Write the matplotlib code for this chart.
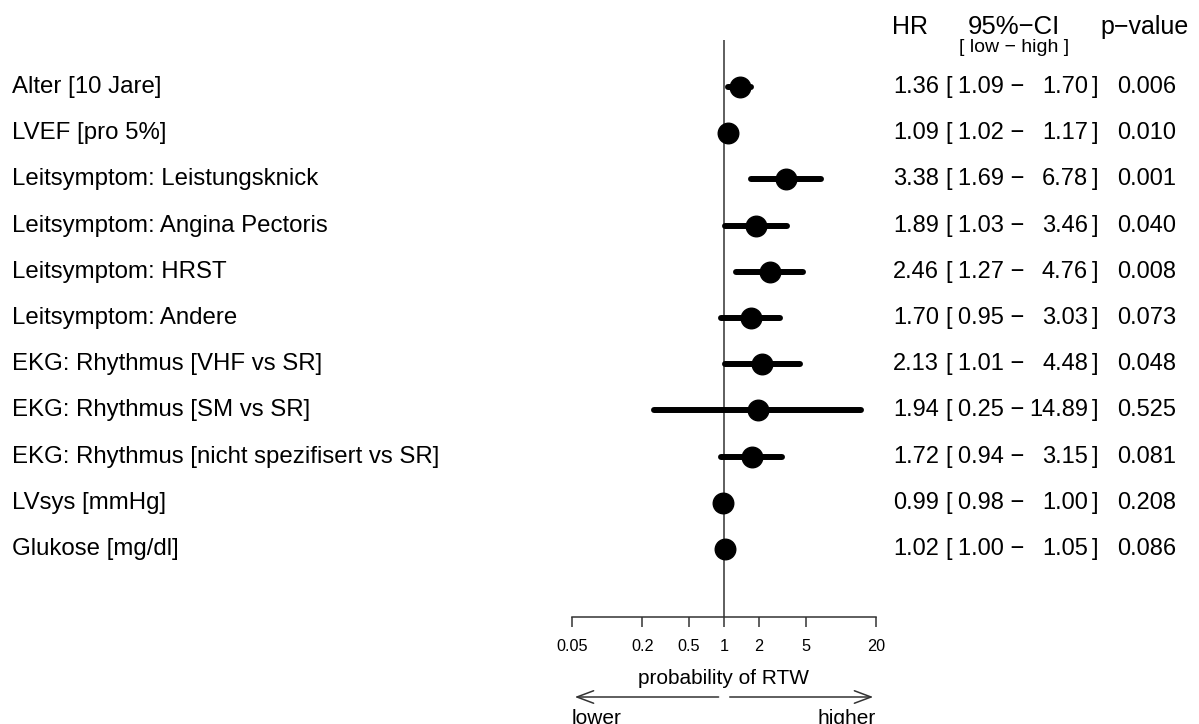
import matplotlib
matplotlib.use("Agg")
import matplotlib.pyplot as plt

plt.rcParams['font.family'] = ['Liberation Sans', 'DejaVu Sans']

# Daten
labels = ["Alter [10 Jare]", "LVEF [pro 5%]", "Leitsymptom: Leistungsknick",
          "Leitsymptom: Angina Pectoris", "Leitsymptom: HRST", "Leitsymptom: Andere",
          "EKG: Rhythmus [VHF vs SR]", "EKG: Rhythmus [SM vs SR]",
          "EKG: Rhythmus [nicht spezifisert vs SR]", "LVsys [mmHg]", "Glukose [mg/dl]"]
hr = [1.36, 1.09, 3.38, 1.89, 2.46, 1.70, 2.13, 1.94, 1.72, 0.99, 1.02]
ci_low = [1.09, 1.02, 1.69, 1.03, 1.27, 0.95, 1.01, 0.25, 0.94, 0.98, 1.00]
ci_high = [1.70, 1.17, 6.78, 3.46, 4.76, 3.03, 4.48, 14.89, 3.15, 1.00, 1.05]
pval = ["0.006", "0.010", "0.001", "0.040", "0.008", "0.073", "0.048", "0.525", "0.081", "0.208", "0.086"]
ticks = [0.05, 0.2, 0.5, 1, 2, 5, 20]
tick_labels = ["0.05", "0.2", "0.5", "1", "2", "5", "20"]

W, H = 1199, 724
fig = plt.figure(figsize=(W / 100, H / 100), dpi=100)

def px(x, y):
    # Pixel -> Figurkoordinaten
    return x / W, 1 - y / H

# Achse fuer den Forest-Plot
y0, dy = 87, 46.2
top, bottom = 40, 617
ax = fig.add_axes([572 / W, 1 - bottom / H, (876 - 572) / W, (bottom - top) / H])
ax.set_xscale('log')
ax.set_xlim(0.05, 20)
ax.set_ylim((bottom - y0) / dy, (top - y0) / dy)

ax.axvline(1, color='#333333', lw=1.1)
for i in range(len(hr)):
    ax.plot([ci_low[i], ci_high[i]], [i, i], color='black', lw=4.3, solid_capstyle='round')
    ax.plot(hr[i], i, 'o', color='black', ms=14.8)

for s in ['top', 'left', 'right']:
    ax.spines[s].set_visible(False)
ax.spines['bottom'].set_color('#333333')
ax.spines['bottom'].set_linewidth(1.1)
ax.set_yticks([])
ax.set_xticks(ticks)
ax.set_xticklabels(tick_labels, fontsize=11.7)
ax.minorticks_off()
ax.tick_params(axis='x', length=7.5, width=1.1, color='#333333', pad=8)

# Beschriftung unter der Achse
fig.text(*px(724, 678), "probability of RTW", ha='center', va='center', fontsize=15)
yy = -(697 - bottom) / (bottom - top)
pfeil = dict(arrowstyle='->,head_length=1.2,head_width=0.45', lw=1.1, color='#333333')
ax.annotate("", xy=(0.05, yy), xytext=(0.95, yy), xycoords=('data', 'axes fraction'),
            arrowprops=pfeil, annotation_clip=False)
ax.annotate("", xy=(20, yy), xytext=(1.06, yy), xycoords=('data', 'axes fraction'),
            arrowprops=pfeil, annotation_clip=False)
fig.text(*px(572, 709), "lower", ha='left', va='top', fontsize=15)
fig.text(*px(876, 709), "higher", ha='right', va='top', fontsize=15)

# Linke Beschriftungen
for i, lab in enumerate(labels):
    fig.text(*px(12, y0 + i * dy), lab, ha='left', va='center', fontsize=17.3)

# Kopfzeile
fig.text(*px(892, 27), "HR", ha='left', va='center', fontsize=18)
fig.text(*px(1014, 27), "95%\u2212CI", ha='center', va='center', fontsize=18.5)
fig.text(*px(1014, 47), "[ low \u2212 high ]", ha='center', va='center', fontsize=14)
fig.text(*px(1189, 27), "p\u2212value", ha='right', va='center', fontsize=18)

# Werte rechts
for i in range(len(hr)):
    yy_px = y0 + i * dy
    fig.text(*px(893, yy_px), f"{hr[i]:.2f}", ha='left', va='center', fontsize=17)
    fig.text(*px(945, yy_px), "[", ha='left', va='center', fontsize=17)
    fig.text(*px(958, yy_px), f"{ci_low[i]:.2f} \u2212", ha='left', va='center', fontsize=17)
    fig.text(*px(1088, yy_px), f"{ci_high[i]:.2f}", ha='right', va='center', fontsize=17)
    fig.text(*px(1092, yy_px), "]", ha='left', va='center', fontsize=17)
    fig.text(*px(1176, yy_px), pval[i], ha='right', va='center', fontsize=17)

fig.savefig("out.png", dpi=100)
